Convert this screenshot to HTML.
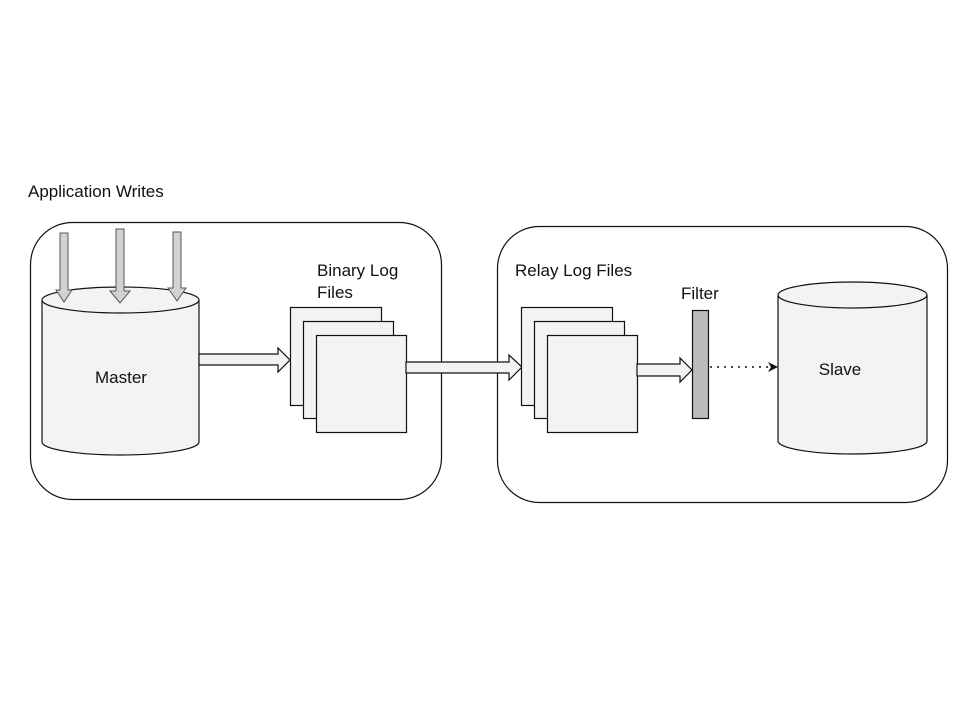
<!DOCTYPE html>
<html><head><meta charset="utf-8"><style>
body{margin:0;background:#fff}
svg text{font-family:"Liberation Sans",Arial,sans-serif;fill:#111}
</style></head><body>
<svg width="960" height="720" viewBox="0 0 960 720" xmlns="http://www.w3.org/2000/svg">
<rect width="960" height="720" fill="#fff"/>
<text x="28" y="197" font-size="17">Application Writes</text>
<rect x="30.5" y="222.5" width="411" height="277" rx="42" fill="none" stroke="#111" stroke-width="1.2"/>
<rect x="497.5" y="226.5" width="450" height="276" rx="42" fill="none" stroke="#111" stroke-width="1.2"/>
<!-- Master cylinder -->
<path d="M42,300 L42,442 A78.5,13 0 0 0 199,442 L199,300" fill="#f3f3f3" stroke="#111" stroke-width="1.2"/>
<ellipse cx="120.5" cy="300" rx="78.5" ry="13" fill="#f3f3f3" stroke="#111" stroke-width="1.2"/>
<text x="121" y="383" font-size="17" text-anchor="middle">Master</text>
<!-- down arrows -->
<g fill="#d2d2d2" stroke="#555" stroke-width="1">
<path d="M60,233 L68,233 L68,290 L72,290 L64,302 L56,290 L60,290 Z"/>
<path d="M116,229 L124,229 L124,291 L130,291 L120,303 L110,291 L116,291 Z"/>
<path d="M173,232 L181,232 L181,288 L186,288 L177,301 L168,288 L173,288 Z"/>
</g>
<!-- master -> binary arrow -->
<path d="M199,354 L278,354 L278,348 L290,360 L278,372 L278,365 L199,365 Z" fill="#f3f3f3" stroke="#111" stroke-width="1.2"/>
<text x="317" y="276" font-size="17">Binary Log</text>
<text x="317" y="298" font-size="17">Files</text>
<g fill="#f3f3f3" stroke="#111" stroke-width="1.2">
<rect x="290.5" y="307.5" width="91" height="98"/>
<rect x="303.5" y="321.5" width="90" height="97"/>
<rect x="316.5" y="335.5" width="90" height="97"/>
</g>
<path d="M406,362 L509,362 L509,355 L522,367 L509,380 L509,373 L406,373 Z" fill="#f3f3f3" stroke="#111" stroke-width="1.2"/>
<text x="515" y="276" font-size="17">Relay Log Files</text>
<g fill="#f3f3f3" stroke="#111" stroke-width="1.2">
<rect x="521.5" y="307.5" width="91" height="98"/>
<rect x="534.5" y="321.5" width="90" height="97"/>
<rect x="547.5" y="335.5" width="90" height="97"/>
</g>
<path d="M637,364 L680,364 L680,358 L692,370 L680,382 L680,376 L637,376 Z" fill="#f3f3f3" stroke="#111" stroke-width="1.2"/>
<text x="681" y="299" font-size="17">Filter</text>
<rect x="692.5" y="310.5" width="16" height="108" fill="#bbb" stroke="#111" stroke-width="1.2"/>
<line x1="710" y1="367" x2="770" y2="367" stroke="#111" stroke-width="1.5" stroke-dasharray="2,5"/>
<path d="M768,362 L778,367 L768,372 L771,367 Z" fill="#111"/>
<!-- Slave cylinder -->
<path d="M778,295 L778,441 A74.5,13 0 0 0 927,441 L927,295" fill="#f3f3f3" stroke="#111" stroke-width="1.2"/>
<ellipse cx="852.5" cy="295" rx="74.5" ry="13" fill="#f3f3f3" stroke="#111" stroke-width="1.2"/>
<text x="840" y="375" font-size="17" text-anchor="middle">Slave</text>
</svg>
</body></html>
